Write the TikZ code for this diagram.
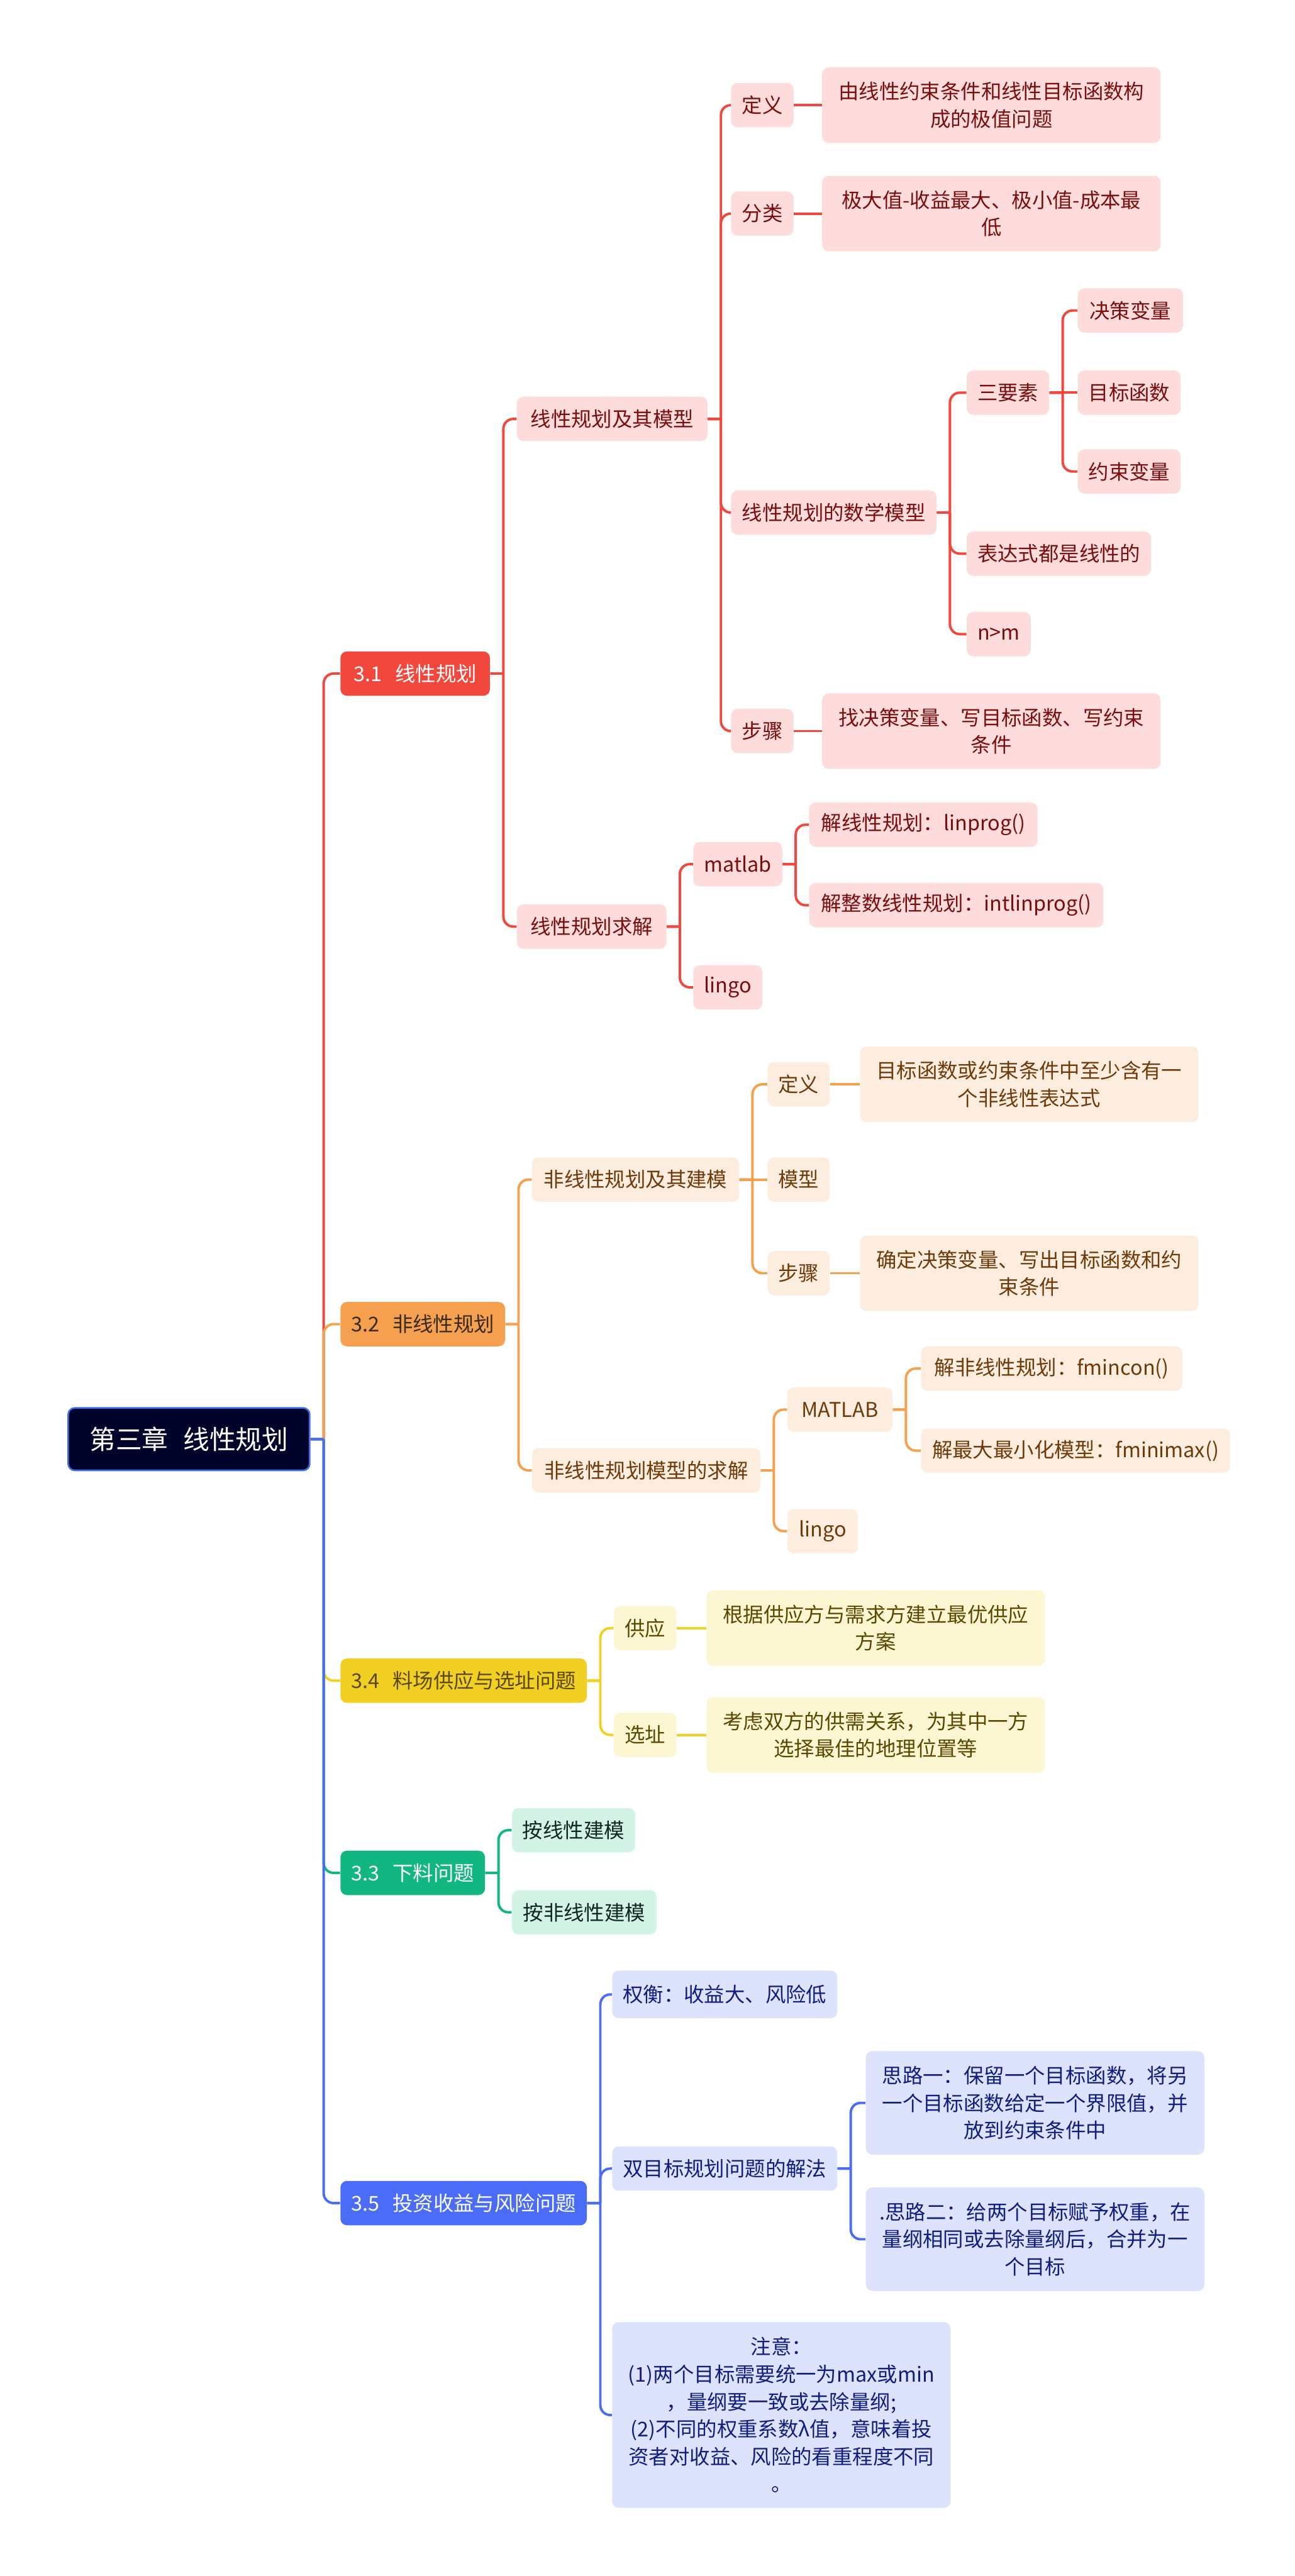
\documentclass[tikz,border=0pt]{standalone}
\usepackage{fontspec}
\setmainfont{Noto Sans CJK SC}
\usetikzlibrary{positioning}

\definecolor{rootfill}{HTML}{00042A}
\definecolor{rootedge}{HTML}{3F6FE8}
\definecolor{redmain}{HTML}{F2473D}
\definecolor{redsoft}{HTML}{FDDCDB}
\definecolor{redtext}{HTML}{7A0E0E}
\definecolor{orangemain}{HTML}{F5A04E}
\definecolor{orangesoft}{HTML}{FDEDDE}
\definecolor{orangetext}{HTML}{6E3A0A}
\definecolor{orangehtext}{HTML}{3A2A1A}
\definecolor{yellowmain}{HTML}{F1D023}
\definecolor{yellowsoft}{HTML}{FDF6D2}
\definecolor{yellowtext}{HTML}{5A4700}
\definecolor{greenmain}{HTML}{12B680}
\definecolor{greensoft}{HTML}{D3F3E6}
\definecolor{greentext}{HTML}{10261E}
\definecolor{bluemain}{HTML}{4A6CF7}
\definecolor{bluesoft}{HTML}{DDE3FC}
\definecolor{bluetext}{HTML}{111D80}

\newcommand{\leaffont}{\fontsize{12.4}{16.7}\selectfont}
\newcommand{\rootfont}{\fontsize{16}{20}\selectfont}

\begin{document}
\begin{tikzpicture}[x=1pt, y=-1pt, node distance=17pt]
    % Define styles
    \tikzstyle{box} = [rectangle, rounded corners=4pt, inner xsep=6.5pt, inner ysep=3pt, minimum height=27pt, font=\leaffont, align=center]
    \tikzstyle{chapter} = [box, fill=rootfill, draw=rootedge, line width=1pt, text=white, minimum width=147pt, minimum height=38pt, font=\rootfont]
    \tikzstyle{wide} = [minimum width=206pt, minimum height=46pt]
    \tikzstyle{redhead} = [box, fill=redmain, text=white]
    \tikzstyle{redleaf} = [box, fill=redsoft, text=redtext]
    \tikzstyle{orangehead} = [box, fill=orangemain, text=orangehtext]
    \tikzstyle{orangeleaf} = [box, fill=orangesoft, text=orangetext]
    \tikzstyle{yellowhead} = [box, fill=yellowmain, text=yellowtext]
    \tikzstyle{yellowleaf} = [box, fill=yellowsoft, text=yellowtext]
    \tikzstyle{greenhead} = [box, fill=greenmain, text=white]
    \tikzstyle{greenleaf} = [box, fill=greensoft, text=greentext]
    \tikzstyle{bluehead} = [box, fill=bluemain, text=white]
    \tikzstyle{blueleaf} = [box, fill=bluesoft, text=bluetext]
    \tikzstyle{link} = [line width=1.5pt, to path={(\tikztostart.east) -- ++(8pt,0) coordinate (jn) (jn) [rounded corners=6pt] |- (\tikztotarget.west)}]
    \tikzstyle{straight} = [line width=1.5pt, to path={(\tikztostart.east) -- (\tikztotarget.west)}]
    \tikzstyle{redlink} = [link, draw=redmain]
    \tikzstyle{orangelink} = [link, draw=orangemain]
    \tikzstyle{yellowlink} = [link, draw=yellowmain]
    \tikzstyle{greenlink} = [link, draw=greenmain]
    \tikzstyle{bluelink} = [link, draw=bluemain]

    \fill[white] (0,0) rectangle (788,1568);
    \useasboundingbox (0,0) rectangle (788,1568);

    % Root
    \node[chapter, anchor=west] (chap) at (41,876) {第三章\hspace{9pt}线性规划};

    % Level 1: sections
    \node[redhead, minimum width=91pt, right=18pt of chap, yshift=466pt] (s31) {3.1\hspace{8pt}线性规划};
    \node[orangehead, minimum width=100pt, right=18pt of chap, yshift=70pt] (s32) {3.2\hspace{8pt}非线性规划};
    \node[yellowhead, minimum width=150pt, right=18pt of chap, yshift=-147pt] (s34) {3.4\hspace{8pt}料场供应与选址问题};
    \node[greenhead, minimum width=88pt, right=18pt of chap, yshift=-264pt] (s33) {3.3\hspace{8pt}下料问题};
    \node[bluehead, minimum width=150pt, right=18pt of chap, yshift=-465pt] (s35) {3.5\hspace{8pt}投资收益与风险问题};

    % 3.1 Linear programming
    \node[redleaf, minimum width=116pt, right=16pt of s31, yshift=155pt] (lpmodel) {线性规划及其模型};
    \node[redleaf, minimum width=91pt, right=16pt of s31, yshift=-154pt] (lpsolve) {线性规划求解};
    \node[redleaf, minimum width=38pt, right=14pt of lpmodel, yshift=191pt] (lpdef) {定义};
    \node[redleaf, minimum width=38pt, right=14pt of lpmodel, yshift=125pt] (lpkind) {分类};
    \node[redleaf, minimum width=125pt, right=14pt of lpmodel, yshift=-57pt] (lpmath) {线性规划的数学模型};
    \node[redleaf, minimum width=38pt, right=14pt of lpmodel, yshift=-190pt] (lpsteps) {步骤};
    \node[redleaf, wide, right=17pt of lpdef] (lpdeftxt) {由线性约束条件和线性目标函数构\\成的极值问题};
    \node[redleaf, wide, right=17pt of lpkind] (lpkindtxt) {极大值-收益最大、极小值-成本最\\低};
    \node[redleaf, wide, right=17pt of lpsteps] (lpstepstxt) {找决策变量、写目标函数、写约束\\条件};
    \node[redleaf, minimum width=50pt, right=18pt of lpmath, yshift=73pt] (three) {三要素};
    \node[redleaf, minimum width=110pt, right=18pt of lpmath, yshift=-25pt] (linexpr) {表达式都是线性的};
    \node[redleaf, minimum width=37pt, right=18pt of lpmath, yshift=-74pt] (nm) {n>m};
    \node[redleaf, minimum width=64pt, right=17pt of three, yshift=50pt] (decvar) {决策变量};
    \node[redleaf, minimum width=62pt, right=17pt of three] (objfun) {目标函数};
    \node[redleaf, minimum width=62pt, right=17pt of three, yshift=-48pt] (convar) {约束变量};
    \node[redleaf, minimum width=54pt, right=16pt of lpsolve, yshift=38pt] (matlaba) {matlab};
    \node[redleaf, minimum width=42pt, right=16pt of lpsolve, yshift=-37pt] (lingoa) {lingo};
    \node[redleaf, minimum width=139pt, right=16pt of matlaba, yshift=24pt] (linprog) {解线性规划：linprog()};
    \node[redleaf, minimum width=179pt, right=16pt of matlaba, yshift=-25pt] (intlinprog) {解整数线性规划：intlinprog()};

    % 3.2 Nonlinear programming
    \node[orangeleaf, minimum width=126pt, right=16pt of s32, yshift=88pt] (nlpmodel) {非线性规划及其建模};
    \node[orangeleaf, minimum width=139pt, right=16pt of s32, yshift=-89pt] (nlpsolve) {非线性规划模型的求解};
    \node[orangeleaf, minimum width=37pt, right=17pt of nlpmodel, yshift=58pt] (nlpdef) {定义};
    \node[orangeleaf, minimum width=37pt, right=17pt of nlpmodel] (nlpform) {模型};
    \node[orangeleaf, minimum width=37pt, right=17pt of nlpmodel, yshift=-57pt] (nlpsteps) {步骤};
    \node[orangeleaf, wide, right=18pt of nlpdef] (nlpdeftxt) {目标函数或约束条件中至少含有一\\个非线性表达式};
    \node[orangeleaf, wide, right=18pt of nlpsteps] (nlpstepstxt) {确定决策变量、写出目标函数和约\\束条件};
    \node[orangeleaf, minimum width=64pt, right=16pt of nlpsolve, yshift=37pt] (matlabb) {MATLAB};
    \node[orangeleaf, minimum width=43pt, right=16pt of nlpsolve, yshift=-37pt] (lingob) {lingo};
    \node[orangeleaf, minimum width=159pt, right=17pt of matlabb, yshift=25pt] (fmincon) {解非线性规划：fmincon()};
    \node[orangeleaf, minimum width=188pt, right=17pt of matlabb, yshift=-25pt] (fminimax) {解最大最小化模型：fminimax()};

    % 3.4 Supply and site selection
    \node[yellowleaf, minimum width=38pt, right=16pt of s34, yshift=32pt] (supply) {供应};
    \node[yellowleaf, minimum width=38pt, right=16pt of s34, yshift=-33pt] (site) {选址};
    \node[yellowleaf, wide, right=18pt of supply] (supplytxt) {根据供应方与需求方建立最优供应\\方案};
    \node[yellowleaf, wide, right=18pt of site] (sitetxt) {考虑双方的供需关系，为其中一方\\选择最佳的地理位置等};

    % 3.3 Cutting stock
    \node[greenleaf, minimum width=75pt, right=16pt of s33, yshift=26pt] (cutlin) {按线性建模};
    \node[greenleaf, minimum width=88pt, right=16pt of s33, yshift=-24pt] (cutnon) {按非线性建模};

    % 3.5 Return and risk
    \node[blueleaf, minimum width=137pt, right=15pt of s35, yshift=127pt, minimum height=29pt] (tradeoff) {权衡：收益大、风险低};
    \node[blueleaf, minimum width=135pt, right=15pt of s35, yshift=21pt] (biobj) {双目标规划问题的解法};
    \node[blueleaf, right=15pt of s35, yshift=-129pt, minimum width=206pt, minimum height=113pt] (notice) {注意：\\(1)两个目标需要统一为max或min\\，量纲要一致或去除量纲;\\(2)不同的权重系数λ值，意味着投\\资者对收益、风险的看重程度不同\\。};
    \node[blueleaf, right=17pt of biobj, yshift=40pt, minimum width=206pt, minimum height=63pt] (ideaone) {思路一：保留一个目标函数，将另\\一个目标函数给定一个界限值，并\\放到约束条件中};
    \node[blueleaf, right=17pt of biobj, yshift=-43pt, minimum width=206pt, minimum height=63pt] (ideatwo) {.思路二：给两个目标赋予权重，在\\量纲相同或去除量纲后，合并为一\\个目标};

    % Connectors: root to sections
    \draw[redlink] (chap) to (s31);
    \draw[orangelink] (chap) to (s32);
    \draw[yellowlink] (chap) to (s34);
    \draw[greenlink] (chap) to (s33);
    \draw[bluelink] (chap) to (s35);

    % Connectors: 3.1
    \draw[redlink] (s31) to (lpmodel);
    \draw[redlink] (s31) to (lpsolve);
    \draw[redlink] (lpmodel) to (lpdef);
    \draw[redlink] (lpmodel) to (lpkind);
    \draw[redlink] (lpmodel) to (lpmath);
    \draw[redlink] (lpmodel) to (lpsteps);
    \draw[straight, draw=redmain] (lpdef) to (lpdeftxt);
    \draw[straight, draw=redmain] (lpkind) to (lpkindtxt);
    \draw[straight, draw=redmain] (lpsteps) to (lpstepstxt);
    \draw[redlink] (lpmath) to (three);
    \draw[redlink] (lpmath) to (linexpr);
    \draw[redlink] (lpmath) to (nm);
    \draw[redlink] (three) to (decvar);
    \draw[straight, draw=redmain] (three) to (objfun);
    \draw[redlink] (three) to (convar);
    \draw[redlink] (lpsolve) to (matlaba);
    \draw[redlink] (lpsolve) to (lingoa);
    \draw[redlink] (matlaba) to (linprog);
    \draw[redlink] (matlaba) to (intlinprog);

    % Connectors: 3.2
    \draw[orangelink] (s32) to (nlpmodel);
    \draw[orangelink] (s32) to (nlpsolve);
    \draw[orangelink] (nlpmodel) to (nlpdef);
    \draw[straight, draw=orangemain] (nlpmodel) to (nlpform);
    \draw[orangelink] (nlpmodel) to (nlpsteps);
    \draw[straight, draw=orangemain] (nlpdef) to (nlpdeftxt);
    \draw[straight, draw=orangemain] (nlpsteps) to (nlpstepstxt);
    \draw[orangelink] (nlpsolve) to (matlabb);
    \draw[orangelink] (nlpsolve) to (lingob);
    \draw[orangelink] (matlabb) to (fmincon);
    \draw[orangelink] (matlabb) to (fminimax);

    % Connectors: 3.4 and 3.3
    \draw[yellowlink] (s34) to (supply);
    \draw[yellowlink] (s34) to (site);
    \draw[straight, draw=yellowmain] (supply) to (supplytxt);
    \draw[straight, draw=yellowmain] (site) to (sitetxt);
    \draw[greenlink] (s33) to (cutlin);
    \draw[greenlink] (s33) to (cutnon);

    % Connectors: 3.5
    \draw[bluelink] (s35) to (tradeoff);
    \draw[bluelink] (s35) to (biobj);
    \draw[bluelink] (s35) to (notice);
    \draw[bluelink] (biobj) to (ideaone);
    \draw[bluelink] (biobj) to (ideatwo);
\end{tikzpicture}
\end{document}
